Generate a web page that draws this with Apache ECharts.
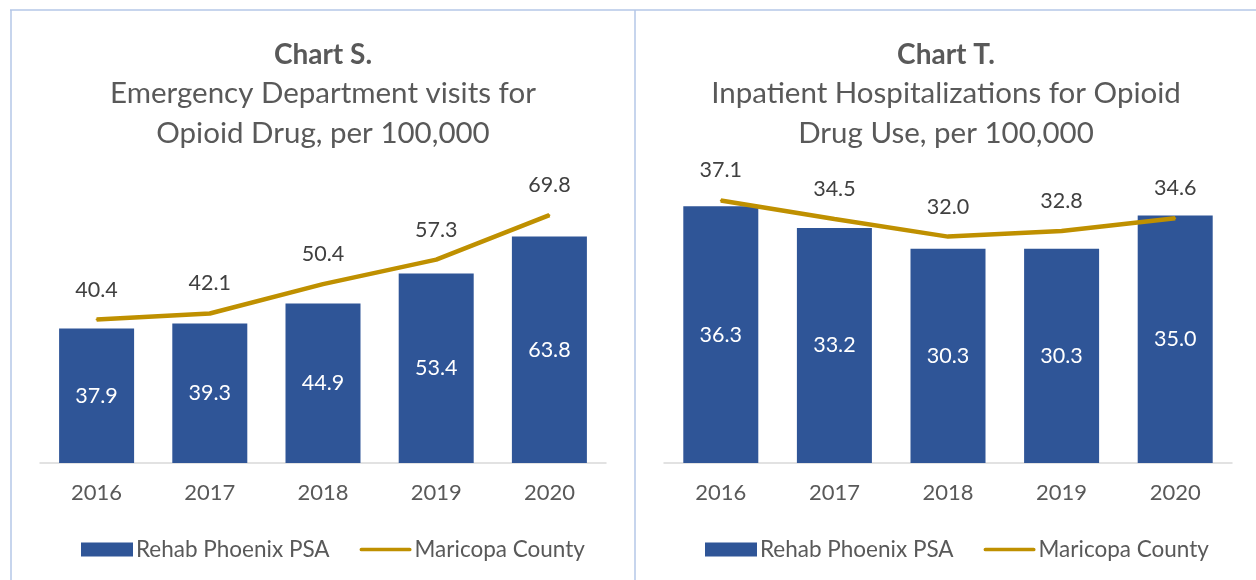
<!DOCTYPE html>
<html>
<head>
<meta charset="utf-8">
<script src="https://cdn.jsdelivr.net/npm/echarts@6/dist/echarts.min.js"></script>
<style>
  html, body { margin: 0; padding: 0; background: #fff; }
  #chart { width: 1256px; height: 580px; }
</style>
</head>
<body>
<div id="chart"></div>
<script>
const years = ['2016', '2017', '2018', '2019', '2020'];
const edPsa = [37.9, 39.3, 44.9, 53.4, 63.8];
const edCounty = [40.4, 42.1, 50.4, 57.3, 69.8];
const ipPsa = [36.3, 33.2, 30.3, 30.3, 35.0];
const ipCounty = [37.1, 34.5, 32.0, 32.8, 34.6];

const FONT = 'Lato';
const GREY = '#595959';
const BLUE = '#2F5597';
const GOLD = '#BF9000';
const lineIcon = 'path://M2,0 L54,0 A2,2 0 0 1 54,4 L2,4 A2,2 0 0 1 2,0 Z';

const chart = echarts.init(document.getElementById('chart'), null, { renderer: 'canvas' });

function title(text, sub, x) {
  return {
    text: text, subtext: sub, left: x, top: 33, textAlign: 'center', itemGap: 1,
    textStyle: { fontFamily: FONT, fontSize: 28, fontWeight: 'bold', color: GREY, lineHeight: 34 },
    subtextStyle: { fontFamily: FONT, fontSize: 29.5, color: GREY, lineHeight: 40 }
  };
}

function legend(x) {
  return {
    left: x, top: 533, itemWidth: 52, itemHeight: 14, itemGap: 30,
    textStyle: { fontFamily: FONT, fontSize: 22.5, color: GREY, padding: [0, 0, 0, -2] },
    data: [
      { name: 'Rehab Phoenix PSA', icon: 'rect' },
      { name: 'Maricopa County', icon: lineIcon }
    ]
  };
}

function xAxis(gi) {
  return {
    type: 'category', gridIndex: gi, data: years,
    axisLine: { lineStyle: { color: '#D9D9D9', width: 1.5 } },
    axisTick: { show: false },
    axisLabel: { fontFamily: FONT, fontSize: 22, color: GREY, margin: 19 }
  };
}

function yAxis(gi, max) {
  return { type: 'value', gridIndex: gi, min: 0, max: max, show: false, splitLine: { show: false } };
}

function bars(gi, data) {
  return {
    name: 'Rehab Phoenix PSA', type: 'bar', xAxisIndex: gi, yAxisIndex: gi, data: data,
    barWidth: 75, itemStyle: { color: BLUE },
    label: { show: true, position: 'inside', fontFamily: FONT, fontSize: 21.5, color: '#fff',
      formatter: p => p.value.toFixed(1) }
  };
}

function line(gi, data) {
  return {
    name: 'Maricopa County', type: 'line', xAxisIndex: gi, yAxisIndex: gi, data: data,
    symbol: 'circle', symbolSize: 2, itemStyle: { color: GOLD },
    lineStyle: { color: GOLD, width: 4.5 },
    label: { show: true, position: 'top', distance: 18, fontFamily: FONT, fontSize: 21.5, color: '#404040',
      formatter: p => p.value.toFixed(1) }
  };
}

chart.setOption({
  animation: false,
  title: [
    title('Chart S.', 'Emergency Department visits for\nOpioid Drug, per 100,000', 318),
    title('Chart T.', 'Inpatient Hospitalizations for Opioid\nDrug Use, per 100,000', 941)
  ],
  legend: [legend(76), legend(700)],
  grid: [
    { left: 40, width: 566, top: 179, height: 284 },
    { left: 664, width: 568, top: 180, height: 283 }
  ],
  xAxis: [xAxis(0), xAxis(1)],
  yAxis: [yAxis(0, 80), yAxis(1, 40)],
  series: [bars(0, edPsa), line(0, edCounty), bars(1, ipPsa), line(1, ipCounty)],
  graphic: [
    { type: 'line', shape: { x1: 10, y1: 10, x2: 1256, y2: 10 }, style: { stroke: '#B4C7E7', lineWidth: 1.5 } },
    { type: 'line', shape: { x1: 11, y1: 10, x2: 11, y2: 580 }, style: { stroke: '#B4C7E7', lineWidth: 1.5 } },
    { type: 'line', shape: { x1: 635, y1: 10, x2: 635, y2: 580 }, style: { stroke: '#B4C7E7', lineWidth: 1.5 } }
  ]
});
</script>
</body>
</html>
